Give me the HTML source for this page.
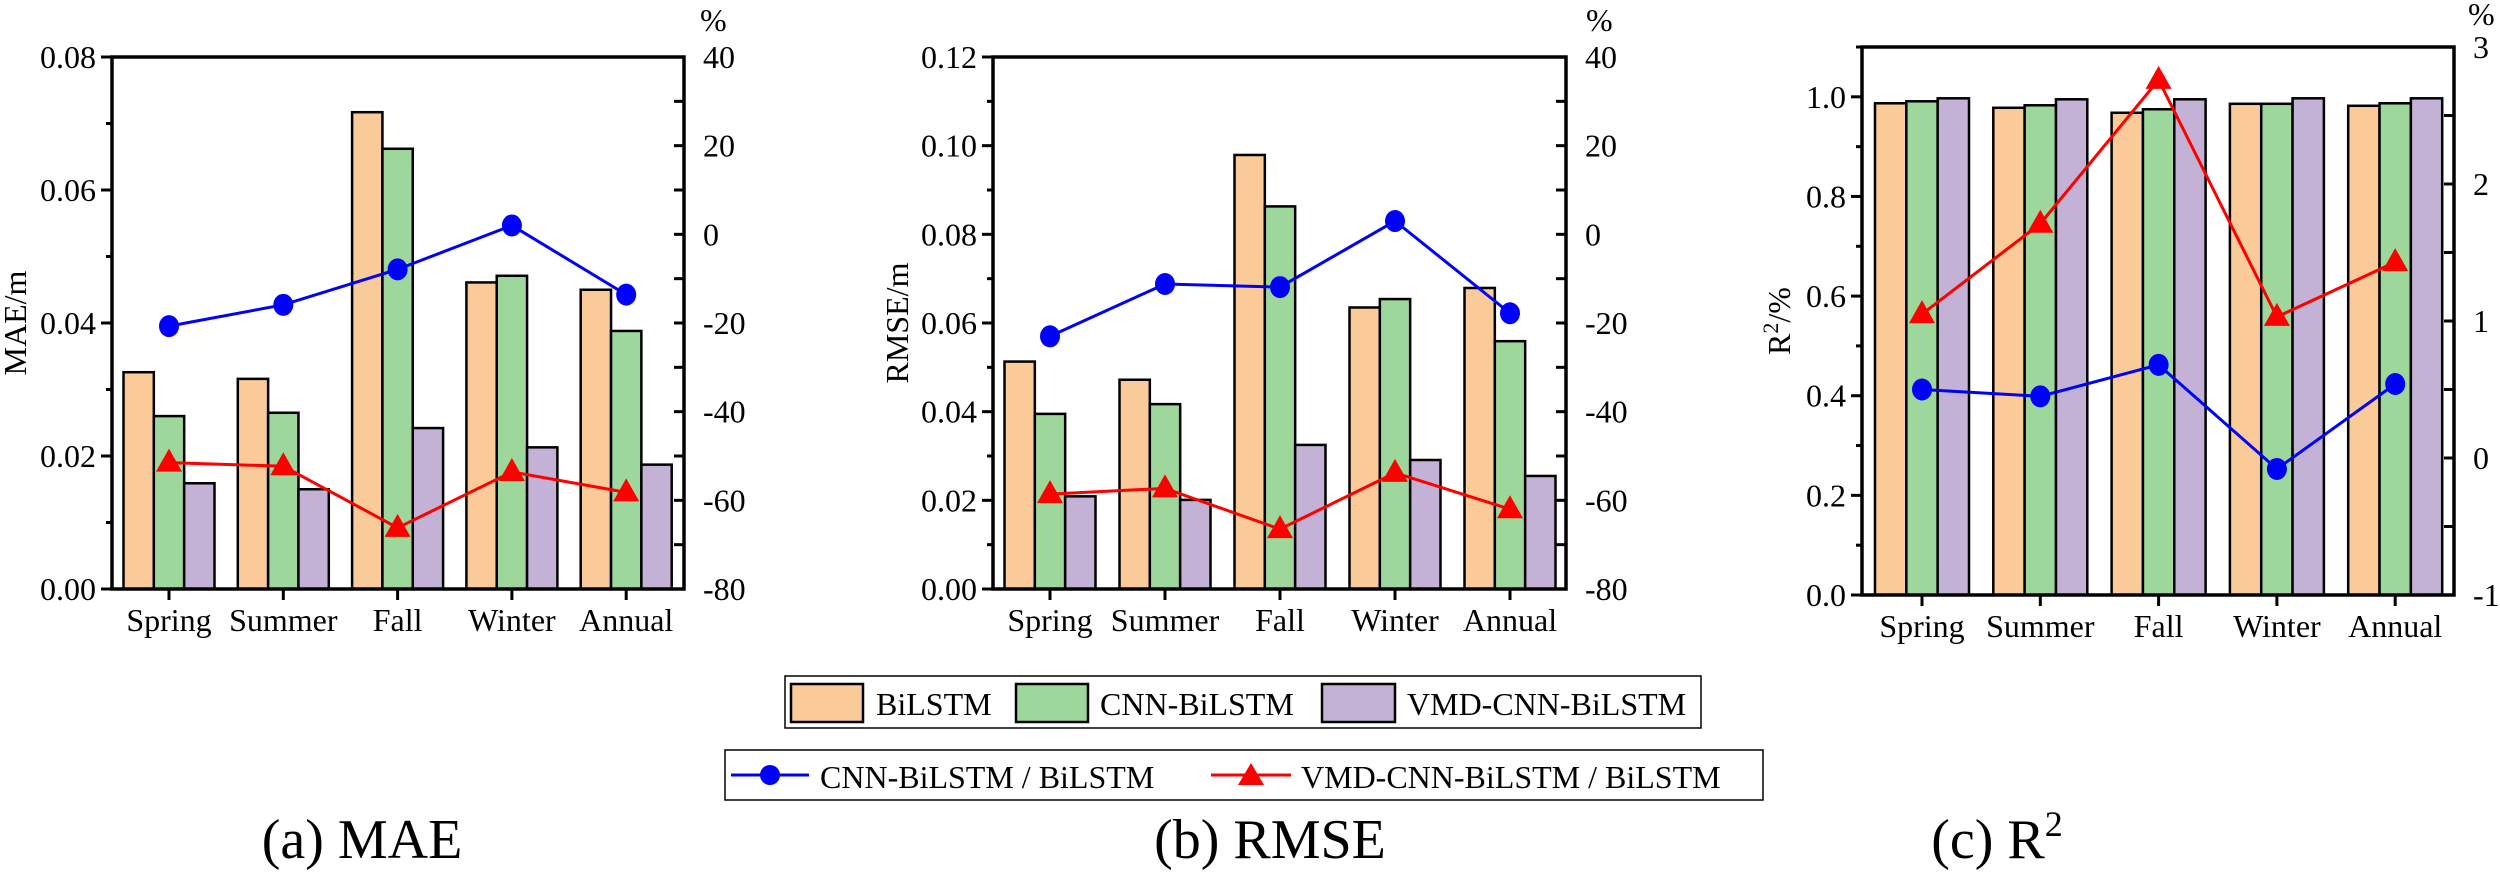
<!DOCTYPE html>
<html><head><meta charset="utf-8">
<style>
html,body{margin:0;padding:0;background:#fff;}
svg{display:block;font-family:"Liberation Serif",serif;}
</style></head>
<body>
<svg id="chart" width="2500" height="875" viewBox="0 0 2500 875" xmlns="http://www.w3.org/2000/svg">
<g id="panels"></g>
<g>
  <rect x="785" y="676" width="916" height="52" fill="#fff" stroke="#000" stroke-width="1.5"/>
  <rect x="791" y="684" width="72" height="38" fill="#FACA98" stroke="#000" stroke-width="2.5"/>
  <text x="876" y="715" font-size="32">BiLSTM</text>
  <rect x="1016" y="684" width="72" height="38" fill="#9ED79C" stroke="#000" stroke-width="2.5"/>
  <text x="1100" y="715" font-size="32">CNN-BiLSTM</text>
  <rect x="1322" y="684" width="73" height="38" fill="#C3B2D5" stroke="#000" stroke-width="2.5"/>
  <text x="1407" y="715" font-size="32">VMD-CNN-BiLSTM</text>
</g>
<g>
  <rect x="725" y="750" width="1038" height="50" fill="#fff" stroke="#000" stroke-width="1.5"/>
  <line x1="731" y1="775" x2="809" y2="775" stroke="#0000FF" stroke-width="3"/>
  <circle cx="770" cy="775" r="10" fill="#0000FF"/>
  <text x="820" y="788" font-size="32">CNN-BiLSTM / BiLSTM</text>
  <line x1="1211" y1="775" x2="1291" y2="775" stroke="#FF0000" stroke-width="3"/>
  <path d="M1251,763 L1264,785 L1238,785 Z" fill="#FF0000"/>
  <text x="1301" y="788" font-size="32">VMD-CNN-BiLSTM / BiLSTM</text>
</g>
<text x="362" y="858" font-size="56" text-anchor="middle">(a) MAE</text>
<text x="1270" y="858" font-size="56" text-anchor="middle">(b) RMSE</text>
<text x="1997" y="858" font-size="56" text-anchor="middle">(c) R<tspan dy="-22" font-size="36">2</tspan></text>
</svg>
<script>
const categories = ["Spring","Summer","Fall","Winter","Annual"];
// Panel A: MAE
const maeBiLSTM = [0.0326,0.0316,0.0717,0.0461,0.0450];
const maeCNN = [0.0260,0.0265,0.0662,0.0471,0.0388];
const maeVMD = [0.0159,0.0150,0.0242,0.0213,0.0187];
const maeRatioCNN = [-20.7,-15.9,-7.9,2.0,-13.6];
const maeRatioVMD = [-51.5,-52.3,-66.2,-53.6,-58.2];
const maeLeftTicks = ["0.00","0.02","0.04","0.06","0.08"];
const maeRightTicks = ["-80","-60","-40","-20","0","20","40"];
// Panel B: RMSE
const rmseBiLSTM = [0.0513,0.0472,0.0979,0.0635,0.0679];
const rmseCNN = [0.0395,0.0417,0.0863,0.0654,0.0559];
const rmseVMD = [0.0209,0.0201,0.0325,0.0291,0.0255];
const rmseRatioCNN = [-23.0,-11.2,-11.9,3.0,-17.8];
const rmseRatioVMD = [-58.6,-57.3,-66.5,-53.8,-62.0];
const rmseLeftTicks = ["0.00","0.02","0.04","0.06","0.08","0.10","0.12"];
const rmseRightTicks = ["-80","-60","-40","-20","0","20","40"];
// Panel C: R2
const r2BiLSTM = [0.987,0.978,0.968,0.986,0.982];
const r2CNN = [0.991,0.983,0.975,0.986,0.987];
const r2VMD = [0.997,0.995,0.995,0.997,0.997];
const r2RatioCNN = [0.50,0.45,0.68,-0.08,0.54];
const r2RatioVMD = [1.05,1.71,2.76,1.03,1.43];
const r2LeftTicks = ["0.0","0.2","0.4","0.6","0.8","1.0"];
const r2RightTicks = ["-1","0","1","2","3"];

const NS = "http://www.w3.org/2000/svg";
const root = document.getElementById("panels");
function mk(tag, attrs, parent){
  const e = document.createElementNS(NS, tag);
  for (const k in attrs) e.setAttribute(k, attrs[k]);
  (parent||root).appendChild(e);
  return e;
}
const colors = ["#FACA98","#9ED79C","#C3B2D5"];
const seriesNames = ["bilstm","cnn-bilstm","vmd-cnn-bilstm"];

function panel(cfg){
  const g = mk("g", {});
  
  
  const L=cfg.left, R=cfg.right, T=cfg.top, B=cfg.bottom;
  const y = v => B - (v - cfg.yMin)/(cfg.yMax - cfg.yMin)*(B-T);
  const y2 = v => B - (v - cfg.y2Min)/(cfg.y2Max - cfg.y2Min)*(B-T);
  const x = i => cfg.x0 + i*cfg.step;
  const bw = cfg.groupW/3;
  cfg.bars.forEach((arr, s) => {
    arr.forEach((v, i) => {
      const r = mk("rect", {x: x(i)-cfg.groupW/2 + s*bw, y: y(v), width: bw, height: B - y(v), fill: colors[s], stroke:"#000", "stroke-width":2.5}, g);
      
      
    });
  });
  const fr = mk("path", {d:`M${L},${T} H${R} V${B} H${L} Z`, fill:"none", stroke:"#000", "stroke-width":3.5}, g);
  
  
  cfg.leftTicks.forEach((t, k) => {
    const v = parseFloat(t), yy = y(v);
    mk("line", {x1:L-11, x2:L, y1:yy, y2:yy, stroke:"#000", "stroke-width":3}, g);
    const tx = mk("text", {x:L-16, y:yy+11, "font-size":32, "text-anchor":"end"}, g);
    tx.textContent = t;
    
    
    if (k < cfg.leftTicks.length-1){
      const mv = (v + parseFloat(cfg.leftTicks[k+1]))/2;
      mk("line", {x1:L-6, x2:L, y1:y(mv), y2:y(mv), stroke:"#000", "stroke-width":3}, g);
    }
  });
  if (cfg.leftMinorTop){ mk("line", {x1:L-6, x2:L, y1:y(cfg.leftMinorTop), y2:y(cfg.leftMinorTop), stroke:"#000", "stroke-width":3}, g); }
  cfg.rightTicks.forEach((t, k) => {
    const v = parseFloat(t), yy = y2(v);
    mk("line", {x1:R-10, x2:R, y1:yy, y2:yy, stroke:"#000", "stroke-width":3}, g);
    const tx = mk("text", {x:R+19, y:yy+11, "font-size":32}, g);
    tx.textContent = t;
    
    
    if (k < cfg.rightTicks.length-1){
      const mv = (v + parseFloat(cfg.rightTicks[k+1]))/2;
      mk("line", {x1:R-10, x2:R, y1:y2(mv), y2:y2(mv), stroke:"#000", "stroke-width":3}, g);
    }
  });
  const pc = mk("text", {x:R+cfg.pctDx, y:cfg.pctY, "font-size":32}, g);
  pc.textContent = "%";
  
  
  categories.forEach((c, i) => {
    mk("line", {x1:x(i), x2:x(i), y1:B, y2:B+11, stroke:"#000", "stroke-width":3}, g);
    const tx = mk("text", {x:x(i), y:B+42, "font-size":32, "text-anchor":"middle"}, g);
    tx.textContent = c;
    
    
  });
  const yt = mk("text", {x:0, y:0, "font-size":32, "text-anchor":"middle", transform:`translate(${cfg.titleX},${(T+B)/2}) rotate(-90)`}, g);
  yt.innerHTML = cfg.title;
  
  
  const blue = cfg.ratioCNN.map((v,i)=>`${x(i)},${y2(v)}`).join(" ");
  const bl = mk("polyline", {points: blue, fill:"none", stroke:"#0000FF", "stroke-width":3}, g);
  
  
  const red = cfg.ratioVMD.map((v,i)=>`${x(i)},${y2(v)}`).join(" ");
  const rl = mk("polyline", {points: red, fill:"none", stroke:"#FF0000", "stroke-width":3}, g);
  
  
  cfg.ratioCNN.forEach((v,i)=>{
    const c = mk("ellipse", {cx:x(i), cy:y2(v), rx:10, ry:11, fill:"#0000FF"}, g);
    
    
  });
  cfg.ratioVMD.forEach((v,i)=>{
    const cx=x(i), cy=y2(v);
    const p = mk("path", {d:`M${cx},${cy-14} L${cx+13},${cy+9} L${cx-13},${cy+9} Z`, fill:"#FF0000"}, g);
    
    
  });
}

panel({name:"panel-mae", left:112, right:684, top:57, bottom:589, x0:169, step:114.3, groupW:91,
  yMin:0, yMax:0.08, y2Min:-80, y2Max:40, pctDx:16, pctY:31,
  bars:[maeBiLSTM, maeCNN, maeVMD], ratioCNN:maeRatioCNN, ratioVMD:maeRatioVMD,
  leftTicks:maeLeftTicks, rightTicks:maeRightTicks, titleX:26, title:"MAE/m"});
panel({name:"panel-rmse", left:993, right:1566, top:57, bottom:589, x0:1050, step:115, groupW:91,
  yMin:0, yMax:0.12, y2Min:-80, y2Max:40, pctDx:20, pctY:31,
  bars:[rmseBiLSTM, rmseCNN, rmseVMD], ratioCNN:rmseRatioCNN, ratioVMD:rmseRatioVMD,
  leftTicks:rmseLeftTicks, rightTicks:rmseRightTicks, titleX:908, title:"RMSE/m"});
panel({name:"panel-r2", left:1862, right:2454, top:47, bottom:595, x0:1922, step:118.3, groupW:94,
  yMin:0, yMax:1.1, y2Min:-1, y2Max:3, leftMinorTop:1.1, pctDx:14, pctY:25,
  bars:[r2BiLSTM, r2CNN, r2VMD], ratioCNN:r2RatioCNN, ratioVMD:r2RatioVMD,
  leftTicks:r2LeftTicks, rightTicks:r2RightTicks, titleX:1790, title:'R<tspan dy="-12" font-size="22">2</tspan><tspan dy="12">/%</tspan>'});
</script>
</body></html>
